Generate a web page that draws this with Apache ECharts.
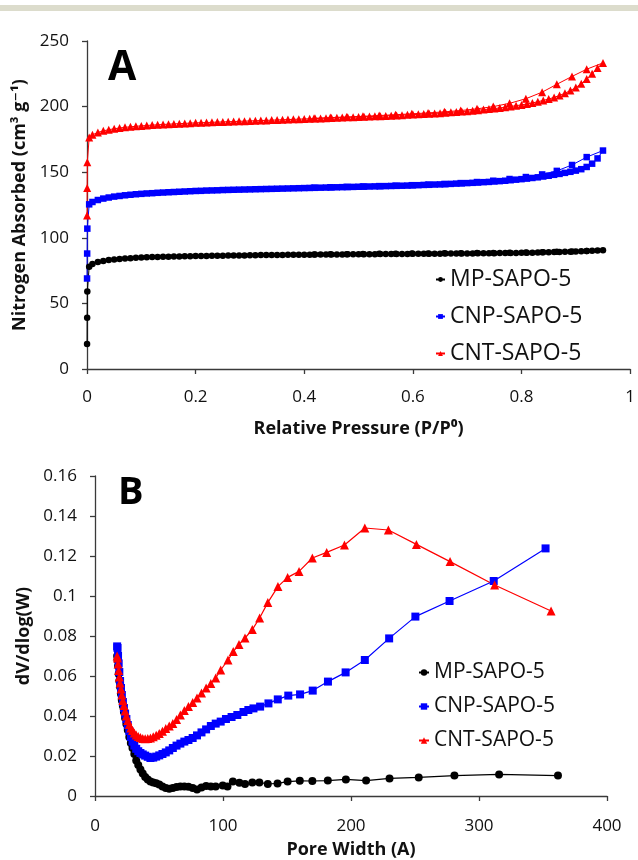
<!DOCTYPE html>
<html><head><meta charset="utf-8">
<script src="https://cdn.jsdelivr.net/npm/echarts@6/dist/echarts.min.js"></script>
<style>html,body{margin:0;padding:0;background:#fff}#c{width:638px;height:860px}</style>
</head><body><div id="c"></div>
<script>
// ---------- Panel A: N2 isotherms ----------
const seriesNames = ['MP-SAPO-5', 'CNP-SAPO-5', 'CNT-SAPO-5'];
const pAds = [0.0001, 0.0003, 0.0006, 0.004,
  0.01, 0.02, 0.03, 0.04, 0.05, 0.06, 0.07, 0.08, 0.09, 0.10,
  0.11, 0.12, 0.13, 0.14, 0.15, 0.16, 0.17, 0.18, 0.19, 0.20,
  0.21, 0.22, 0.23, 0.24, 0.25, 0.26, 0.27, 0.28, 0.29, 0.30,
  0.31, 0.32, 0.33, 0.34, 0.35, 0.36, 0.37, 0.38, 0.39, 0.40,
  0.41, 0.42, 0.43, 0.44, 0.45, 0.46, 0.47, 0.48, 0.49, 0.50,
  0.51, 0.52, 0.53, 0.54, 0.55, 0.56, 0.57, 0.58, 0.59, 0.60,
  0.61, 0.62, 0.63, 0.64, 0.65, 0.66, 0.67, 0.68, 0.69, 0.70,
  0.71, 0.72, 0.73, 0.74, 0.75, 0.76, 0.77, 0.78, 0.79, 0.80,
  0.81, 0.82, 0.83, 0.84, 0.85, 0.86, 0.87, 0.88, 0.89, 0.90,
  0.91, 0.92, 0.93, 0.94, 0.95];
const mpAds = [19, 39, 59, 78,
  80.0, 81.5, 82.4, 83.0, 83.5, 83.9, 84.2, 84.5, 84.7, 84.9,
  85.1, 85.3, 85.4, 85.5, 85.6, 85.7, 85.8, 85.9, 86.0, 86.1,
  86.2, 86.2, 86.3, 86.4, 86.4, 86.5, 86.5, 86.6, 86.6, 86.7,
  86.7, 86.8, 86.8, 86.9, 86.9, 86.9, 87.0, 87.0, 87.1, 87.1,
  87.1, 87.2, 87.2, 87.2, 87.3, 87.3, 87.3, 87.4, 87.4, 87.4,
  87.5, 87.5, 87.5, 87.6, 87.6, 87.6, 87.7, 87.7, 87.7, 87.8,
  87.8, 87.8, 87.9, 87.9, 87.9, 88.0, 88.0, 88.0, 88.1, 88.1,
  88.1, 88.2, 88.2, 88.3, 88.3, 88.4, 88.4, 88.5, 88.5, 88.6,
  88.7, 88.7, 88.8, 88.9, 89.0, 89.1, 89.2, 89.3, 89.4, 89.6,
  89.7, 89.9, 90.1, 90.3, 90.6];
const cnpAds = [69, 88, 107, 125.5,
  127.3, 128.8, 129.9, 130.7, 131.4, 131.9, 132.4, 132.8, 133.2, 133.5,
  133.8, 134.0, 134.3, 134.5, 134.7, 134.9, 135.1, 135.3, 135.5, 135.7,
  135.8, 136.0, 136.1, 136.2, 136.4, 136.5, 136.6, 136.7, 136.8, 136.9,
  137.0, 137.1, 137.2, 137.3, 137.4, 137.5, 137.6, 137.7, 137.8, 137.9,
  138.0, 138.1, 138.2, 138.3, 138.4, 138.5, 138.6, 138.7, 138.8, 138.9,
  139.0, 139.1, 139.2, 139.3, 139.4, 139.5, 139.6, 139.7, 139.8, 140.0,
  140.1, 140.3, 140.4, 140.6, 140.7, 140.9, 141.1, 141.3, 141.5, 141.7,
  141.9, 142.1, 142.4, 142.6, 142.9, 143.2, 143.5, 143.9, 144.3, 144.7,
  145.1, 145.6, 146.1, 146.7, 147.3, 148.0, 148.7, 149.5, 150.3, 151.2,
  152.3, 154.0, 156.5, 160.5, 166.5];
const cntAds = [117, 138, 157.5, 176.5,
  178.5, 180.3, 181.5, 182.4, 183.1, 183.7, 184.2, 184.6, 185.0, 185.3,
  185.6, 185.9, 186.1, 186.4, 186.6, 186.8, 187.0, 187.2, 187.4, 187.6,
  187.7, 187.9, 188.0, 188.2, 188.3, 188.5, 188.6, 188.8, 188.9, 189.1,
  189.2, 189.4, 189.5, 189.7, 189.8, 190.0, 190.1, 190.3, 190.4, 190.6,
  190.7, 190.9, 191.0, 191.2, 191.3, 191.5, 191.6, 191.8, 191.9, 192.1,
  192.2, 192.4, 192.6, 192.7, 192.9, 193.1, 193.3, 193.5, 193.7, 193.9,
  194.1, 194.3, 194.5, 194.8, 195.0, 195.3, 195.6, 195.9, 196.2, 196.5,
  196.9, 197.3, 197.7, 198.1, 198.5, 199.0, 199.5, 200.1, 200.7, 201.3,
  202.0, 202.8, 203.7, 204.7, 205.8, 207.0, 208.5, 210.2, 212.2, 214.5,
  217.5, 221.0, 225.0, 229.5, 233.3];
const pDes = [0.92, 0.893, 0.865, 0.838, 0.808, 0.778, 0.748, 0.718, 0.688,
  0.658, 0.628, 0.598, 0.568, 0.538, 0.508, 0.478, 0.448, 0.418];
const mpDes = [90.0, 89.6, 89.3, 89.0, 88.8, 88.7, 88.5, 88.4, 88.3,
  88.2, 88.1, 88.0, 87.9, 87.8, 87.7, 87.5, 87.4, 87.3];
const cnpDes = [161.5, 155.5, 151.0, 148.3, 146.3, 144.8, 143.5, 142.5, 141.7,
  141.0, 140.5, 140.1, 139.7, 139.4, 139.1, 138.8, 138.5, 138.2];
const cntDes = [228.5, 223.0, 217.0, 211.0, 206.0, 202.5, 200.0, 198.3, 197.0,
  196.0, 195.2, 194.5, 193.8, 193.2, 192.6, 192.1, 191.6, 191.1];

// ---------- Panel B: pore size distribution ----------
const mpWidth = [17.3, 17.6, 18.0, 18.5, 19.0, 19.6, 20.3, 21.0, 21.8, 22.6,
  23.5, 24.5, 25.6, 26.8, 28.0, 29.3, 30.7, 32.2, 33.8, 35.5,
  37.3, 39.2, 41.2, 43.3, 45.5, 47.8, 50.2, 52.7, 55.3, 58.0,
  60.8, 63.7, 66.7, 69.8, 73.0, 76.3, 79.7, 83.2, 86.8, 90.5, 94.3,
  99.8, 103.5, 107.7, 112.8, 117.2, 122.9, 128.4, 135.0, 142.6, 150.5,
  160.0, 169.8, 181.9, 196.0, 211.8, 230.1, 252.9, 280.8, 315.7, 361.7];
const mpDV = [0.0700, 0.0680, 0.0650, 0.0610, 0.0575, 0.0545, 0.0510, 0.0478, 0.0450, 0.0420,
  0.0390, 0.0360, 0.0330, 0.0295, 0.0265, 0.0240, 0.0210, 0.0178, 0.0155, 0.0133,
  0.0113, 0.0095, 0.0082, 0.0073, 0.0068, 0.0064, 0.0058, 0.0048, 0.0040, 0.0036,
  0.0040, 0.0045, 0.0048, 0.0047, 0.0046, 0.0040, 0.0032, 0.0042, 0.0050, 0.0047, 0.0048,
  0.0052, 0.0048, 0.0072, 0.0066, 0.0060, 0.0068, 0.0068, 0.0060, 0.0063, 0.0072,
  0.0076, 0.0075, 0.0077, 0.0083, 0.0077, 0.0088, 0.0093, 0.0102, 0.0108, 0.0102];
const cnpWidth = [17.3, 17.6, 18.0, 18.5, 19.0, 19.6, 20.3, 21.0, 21.8, 22.6,
  23.5, 24.5, 25.6, 26.8, 28.0, 29.3, 30.7, 32.2, 33.8, 35.5,
  37.3, 39.2, 41.2, 43.3, 45.5, 47.8, 50.2, 52.7, 55.3, 58.0,
  60.8, 63.7, 66.7, 69.8, 73.0, 76.3, 79.7, 83.2, 86.8, 90.5, 94.3, 98.2,
  102.3, 106.7, 111.2, 116.0, 119.8, 123.8, 129.0, 135.5, 142.8, 151.0,
  160.2, 170.1, 182.0, 195.8, 210.8, 229.8, 250.3, 277.0, 311.5, 352.0];
const cnpDV = [0.0748, 0.0740, 0.0700, 0.0663, 0.0620, 0.0575, 0.0540, 0.0505, 0.0470, 0.0440,
  0.0412, 0.0385, 0.0355, 0.0325, 0.0295, 0.0272, 0.0252, 0.0236, 0.0224, 0.0215,
  0.0208, 0.0202, 0.0196, 0.0190, 0.0192, 0.0197, 0.0203, 0.0210, 0.0218, 0.0228,
  0.0240, 0.0252, 0.0262, 0.0272, 0.0280, 0.0290, 0.0303, 0.0318, 0.0333, 0.0350, 0.0362, 0.0372,
  0.0385, 0.0395, 0.0405, 0.0420, 0.0430, 0.0438, 0.0447, 0.0463, 0.0483, 0.0502,
  0.0508, 0.0527, 0.0572, 0.0618, 0.0680, 0.0788, 0.0897, 0.0975, 0.1075, 0.1238];
const cntWidth = [17.3, 17.6, 18.0, 18.5, 19.0, 19.6, 20.3, 21.0, 21.8, 22.6,
  23.5, 24.5, 25.6, 26.8, 28.0, 29.3, 30.7, 32.2, 33.8, 35.5,
  37.3, 39.2, 41.2, 43.3, 45.5, 47.8, 50.2, 52.7, 55.3, 58.0,
  60.8, 63.7, 66.7, 69.8, 73.0, 76.3, 79.7, 83.2, 86.8, 90.5, 94.3, 98.2,
  103.9, 108.0, 112.5, 117.2, 122.9, 128.6, 135.0, 142.9, 150.5,
  159.4, 169.8, 181.0, 194.9, 210.8, 229.2, 251.1, 277.4, 312.2, 356.3];
const cntDV = [0.0700, 0.0690, 0.0660, 0.0628, 0.0595, 0.0565, 0.0535, 0.0505, 0.0478, 0.0452,
  0.0425, 0.0400, 0.0378, 0.0358, 0.0340, 0.0327, 0.0315, 0.0305, 0.0298, 0.0292,
  0.0288, 0.0286, 0.0287, 0.0290, 0.0296, 0.0304, 0.0313, 0.0324, 0.0337, 0.0350,
  0.0362, 0.0382, 0.0405, 0.0428, 0.0447, 0.0467, 0.0490, 0.0515, 0.0540, 0.0563, 0.0590, 0.0630,
  0.0680, 0.0722, 0.0758, 0.0790, 0.0832, 0.0890, 0.0967, 0.1047, 0.1093,
  0.1123, 0.1190, 0.1218, 0.1255, 0.1340, 0.1330, 0.1258, 0.1172, 0.1055, 0.0925];

const colors = ['#000000', '#0000ff', '#ff0000'];
const FONT = "'Open Sans', 'DejaVu Sans', sans-serif";

function pairs(xs, ys) { return xs.map((x, i) => [x, ys[i]]); }
function iso(a, d) { return pairs(pAds, a).concat(pairs(pDes, d)); }

function axis(extra, labelMargin) {
  return Object.assign({
    axisLine: { show: true, onZero: false, lineStyle: { color: '#3a3a3a', width: 1.3 } },
    axisTick: { show: true, inside: false, length: 5, lineStyle: { color: '#3a3a3a', width: 1.3 } },
    splitLine: { show: false },
    axisLabel: { fontSize: 17, color: '#111', fontFamily: FONT, margin: labelMargin },
    nameTextStyle: { fontSize: 18, fontWeight: 'bold', color: '#111', fontFamily: FONT }
  }, extra);
}

const chart = echarts.init(document.getElementById('c'), null, { renderer: 'canvas' });
chart.setOption({
  backgroundColor: '#ffffff',
  animation: false,
  textStyle: { fontFamily: FONT },
  grid: [
    { left: 87, right: 7, top: 41, height: 328, containLabel: false },
    { left: 95, right: 31, top: 476, height: 320, containLabel: false }
  ],
  xAxis: [
    axis({ type: 'value', gridIndex: 0, min: 0, max: 1, interval: 0.2,
      name: 'Relative Pressure (P/P⁰)', nameLocation: 'middle', nameGap: 51 }, 20),
    axis({ type: 'value', gridIndex: 1, min: 0, max: 400, interval: 100,
      name: 'Pore Width (A)', nameLocation: 'middle', nameGap: 45 }, 22)
  ],
  yAxis: [
    axis({ type: 'value', gridIndex: 0, min: 0, max: 250, interval: 50,
      name: 'Nitrogen Absorbed (cm³ g⁻¹)', nameLocation: 'middle', nameGap: 51 }, 18),
    axis({ type: 'value', gridIndex: 1, min: 0, max: 0.16, interval: 0.02,
      name: 'dV/dlog(W)', nameLocation: 'middle', nameGap: 51 }, 18)
  ],
  legend: [
    { orient: 'vertical', left: 430, top: 263, itemGap: 14, itemWidth: 9, itemHeight: 6,
      data: seriesNames, textStyle: { fontSize: 23, color: '#111', fontFamily: FONT } },
    { orient: 'vertical', left: 413, top: 657, itemGap: 13, itemWidth: 10, itemHeight: 8,
      data: seriesNames, textStyle: { fontSize: 21, color: '#111', fontFamily: FONT } }
  ],
  graphic: [
    { type: 'rect', left: 0, top: 5, shape: { width: 638, height: 6 }, style: { fill: '#dcdccc' } },
    { type: 'text', left: 108, top: 48, style: { text: 'A', font: "bold 41px 'Open Sans'", fill: '#000' } },
    { type: 'text', left: 118, top: 474, style: { text: 'B', font: "bold 38px 'Open Sans'", fill: '#000' } }
  ],
  series: [
    { name: seriesNames[0], type: 'line', xAxisIndex: 0, yAxisIndex: 0, data: iso(mpAds, mpDes),
      symbol: 'circle', symbolSize: 6.5, lineStyle: { width: 1, color: colors[0] }, itemStyle: { color: colors[0] } },
    { name: seriesNames[1], type: 'line', xAxisIndex: 0, yAxisIndex: 0, data: iso(cnpAds, cnpDes),
      symbol: 'rect', symbolSize: 6.5, lineStyle: { width: 1, color: colors[1] }, itemStyle: { color: colors[1] } },
    { name: seriesNames[2], type: 'line', xAxisIndex: 0, yAxisIndex: 0, data: iso(cntAds, cntDes),
      symbol: 'triangle', symbolSize: 8, lineStyle: { width: 1, color: colors[2] }, itemStyle: { color: colors[2] } },
    { name: seriesNames[0], type: 'line', xAxisIndex: 1, yAxisIndex: 1, data: pairs(mpWidth, mpDV),
      symbol: 'circle', symbolSize: 8, lineStyle: { width: 1.2, color: colors[0] }, itemStyle: { color: colors[0] } },
    { name: seriesNames[1], type: 'line', xAxisIndex: 1, yAxisIndex: 1, data: pairs(cnpWidth, cnpDV),
      symbol: 'rect', symbolSize: 8, lineStyle: { width: 1.2, color: colors[1] }, itemStyle: { color: colors[1] } },
    { name: seriesNames[2], type: 'line', xAxisIndex: 1, yAxisIndex: 1, data: pairs(cntWidth, cntDV),
      symbol: 'triangle', symbolSize: 9, lineStyle: { width: 1.2, color: colors[2] }, itemStyle: { color: colors[2] } }
  ]
});
</script>
</body></html>
